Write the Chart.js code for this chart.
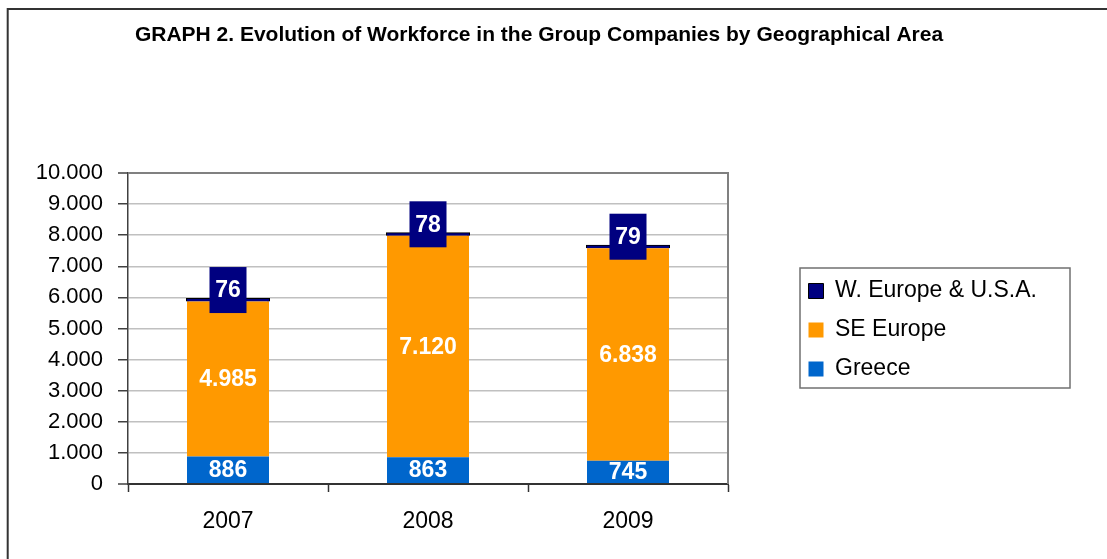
<!DOCTYPE html>
<html>
<head>
<meta charset="utf-8">
<script src="https://cdn.jsdelivr.net/npm/chart.js@4.4.1/dist/chart.umd.min.js"></script>
<style>
  html, body { margin: 0; padding: 0; background: #fff; }
  #wrap { width: 1107px; height: 559px; position: relative; }
</style>
</head>
<body>
<div id="wrap"><canvas id="c" width="1107" height="559"></canvas></div>
<script>
const chartTitle = 'GRAPH 2. Evolution of Workforce in the Group Companies by Geographical Area';
const categories = ['2007', '2008', '2009'];
const seriesNames = ['Greece', 'SE Europe', 'W. Europe & U.S.A.'];
const greece = [886, 863, 745];
const seEurope = [4985, 7120, 6838];
const wEurope = [76, 78, 79];
const yMin = 0, yMax = 10000, yStep = 1000;

const FONT = "'Liberation Sans', Arial, Helvetica, sans-serif";
Chart.defaults.font.family = FONT;
Chart.defaults.color = '#000';

function fmt(v) {
  return String(Math.round(v)).replace(/\B(?=(\d{3})+(?!\d))/g, '.');
}

const layoutPlugin = {
  id: 'layoutPlugin',
  afterInit(chart) {
    const lg = chart.legend;
    if (lg && !lg._patched) {
      const orig = lg.fit;
      lg.fit = function () {
        orig.call(this);
        this.width = 379;
      };
      lg._patched = true;
    }
  },
  afterLayout(chart) {
    const lg = chart.legend;
    if (lg) {
      lg.left = 792.5; lg.right = 1075;
      lg.top = 263.5; lg.bottom = 559;
      lg.width = lg.right - lg.left; lg.height = lg.bottom - lg.top;
    }
    const t = chart.titleBlock;
    if (t) { t.left = 0; t.right = 1078; t.width = 1078; }
  },
  beforeDatasetsDraw(chart) {
    const ctx = chart.ctx, a = chart.chartArea;
    ctx.save();
    ctx.strokeStyle = '#808080';
    ctx.lineWidth = 2;
    ctx.beginPath();
    ctx.moveTo(a.left, a.top);
    ctx.lineTo(a.right, a.top);
    ctx.lineTo(a.right, a.bottom);
    ctx.stroke();
    ctx.restore();
  },
  afterDatasetsDraw(chart) {
    const ctx = chart.ctx;
    ctx.save();
    ctx.textAlign = 'center';
    ctx.textBaseline = 'middle';
    ctx.font = "bold 23px " + FONT;
    chart.data.datasets.forEach((ds, di) => {
      const meta = chart.getDatasetMeta(di);
      meta.data.forEach((el, j) => {
        const p = el.getProps(['x', 'y', 'base'], true);
        const txt = fmt(ds.data[j]);
        if (di === 2) {
          const cy = p.y - 9;
          ctx.fillStyle = '#000080';
          ctx.fillRect(p.x - 18.5, cy - 23, 37, 46);
          ctx.fillStyle = '#fff';
          ctx.fillText(txt, p.x, cy + 1);
        } else {
          ctx.fillStyle = '#fff';
          ctx.fillText(txt, p.x, (p.y + p.base) / 2 + 1);
        }
      });
    });
    ctx.restore();
  },
  afterDraw(chart) {
    const ctx = chart.ctx;
    ctx.save();
    ctx.strokeStyle = '#707070';
    ctx.lineWidth = 1.5;
    ctx.strokeRect(800, 268, 270, 120);
    ctx.strokeStyle = '#333';
    ctx.lineWidth = 2;
    ctx.beginPath();
    ctx.moveTo(7.7, 600);
    ctx.lineTo(7.7, 9);
    ctx.lineTo(1200, 9);
    ctx.stroke();
    ctx.restore();
  }
};

new Chart(document.getElementById('c'), {
  type: 'bar',
  data: {
    labels: categories,
    datasets: [
      { label: seriesNames[0], data: greece, backgroundColor: '#0066CC', borderWidth: 0 },
      { label: seriesNames[1], data: seEurope, backgroundColor: '#FF9900', borderWidth: 0 },
      { label: seriesNames[2], data: wEurope, backgroundColor: '#000080', borderColor: '#000', borderWidth: 1, inflateAmount: 1 }
    ]
  },
  options: {
    responsive: false,
    animation: false,
    events: [],
    datasets: { bar: { categoryPercentage: 1, barPercentage: 0.41 } },
    layout: { padding: { left: 10, right: 0, top: 0, bottom: 25 } },
    plugins: {
      title: {
        display: true,
        text: chartTitle,
        color: '#000',
        font: { family: FONT, size: 21, weight: 'bold' },
        padding: { top: 22.4, bottom: 125.4 }
      },
      legend: {
        position: 'right',
        align: 'start',
        reverse: true,
        labels: {
          boxWidth: 15, boxHeight: 15, padding: 16,
          color: '#000',
          font: { family: FONT, size: 23 }
        }
      },
      tooltip: { enabled: false }
    },
    scales: {
      x: {
        stacked: true,
        grid: { drawOnChartArea: false, drawTicks: true, tickLength: 8, tickColor: '#333', tickWidth: 1.5, offset: true },
        border: { display: true, color: '#333', width: 2 },
        ticks: { padding: 16, color: '#000', font: { family: FONT, size: 23 } },
        afterFit(s) { s.height = 50; }
      },
      y: {
        stacked: true,
        min: yMin, max: yMax,
        grid: {
          color: (c) => (c.tick && c.tick.value === yMax) ? '#808080' : (c.tick && c.tick.value === 0 ? '#333' : '#C0C0C0'),
          lineWidth: (c) => (c.tick && (c.tick.value === yMax || c.tick.value === 0)) ? 2 : 1.5,
          tickLength: 10, tickColor: '#404040', tickWidth: 1.5
        },
        border: { display: true, color: '#404040', width: 1.5 },
        ticks: {
          stepSize: yStep, padding: 15, color: '#000',
          font: { family: FONT, size: 22 },
          callback: (v) => fmt(v)
        },
        afterFit(s) { s.width = 118; }
      }
    }
  },
  plugins: [layoutPlugin]
});
</script>
</body>
</html>
